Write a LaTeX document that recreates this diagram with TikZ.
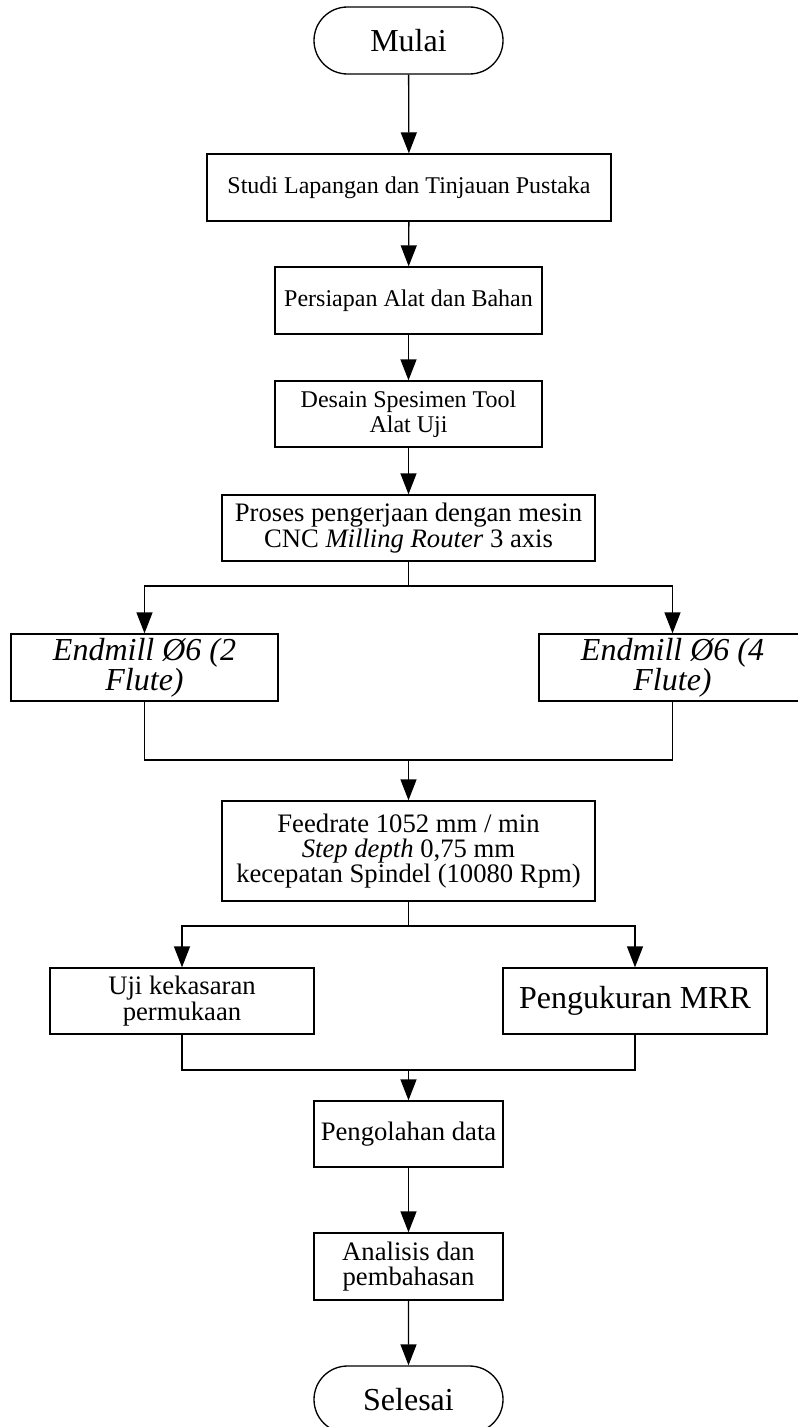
\documentclass[tikz,border=0pt]{standalone}
\usepackage{fontspec}
\setmainfont{Liberation Serif}
\usepackage{tikz}
\usetikzlibrary{arrows.meta,shapes.misc}

\tikzset{
  kotak/.style={draw, line width=1pt, rectangle, align=center, inner sep=0pt},
  terminal/.style={draw, line width=1pt, rounded rectangle, align=center, inner sep=0pt,
    minimum width=141.75pt, minimum height=50.25pt, font=\teksC},
  panah/.style={line width=1pt, -{Triangle[length=15.75pt,width=12pt]}},
  garis/.style={line width=1pt}
}
\newcommand{\teksA}{\fontsize{18pt}{19pt}\selectfont}
\newcommand{\teksB}{\fontsize{20pt}{19pt}\selectfont}
\newcommand{\teksC}{\fontsize{24pt}{21.5pt}\selectfont}

\begin{document}
\begin{tikzpicture}[x=0.75pt,y=-0.75pt]
\useasboundingbox (0,0) rectangle (798,1427);

% Langkah-langkah utama
\node[terminal] (mulai) at (408.5,40.5) {Mulai};
\node[kotak, font=\teksA, minimum width=303pt, minimum height=50.25pt] (studi) at (409,187.5) {Studi Lapangan dan Tinjauan Pustaka};
\node[kotak, font=\teksA, minimum width=200.25pt, minimum height=50.25pt] (persiapan) at (408.5,300.5) {Persiapan Alat dan Bahan};
\node[kotak, font=\teksA, minimum width=200.25pt, minimum height=49.5pt] (desain) at (408.5,414) {Desain Spesimen Tool\\ Alat Uji};
\node[kotak, font=\teksB, minimum width=279.75pt, minimum height=49.5pt] (proses) at (408.5,528) {Proses pengerjaan dengan mesin\\ CNC \textit{Milling Router} 3 axis};

% Dua jenis endmill
\node[kotak, font=\teksC\itshape, minimum width=200.25pt, minimum height=50.25pt] (endkiri) at (144.5,667.5) {Endmill Ø6 (2\\ Flute)};
\node[kotak, font=\teksC\itshape, minimum width=200.25pt, minimum height=50.25pt] (endkanan) at (672.5,667.5) {Endmill Ø6 (4\\ Flute)};

\node[kotak, font=\teksB, minimum width=279.75pt, minimum height=75pt] (feed) at (408.5,851) {Feedrate 1052 mm / min\\ \textit{Step depth} 0,75 mm\\ kecepatan Spindel (10080 Rpm)};

% Dua pengujian
\node[kotak, font=\teksB, minimum width=198pt, minimum height=49.5pt] (uji) at (182,1001) {Uji kekasaran\\ permukaan};
\node[kotak, font=\teksC, minimum width=198pt, minimum height=49.5pt] (mrr) at (635,1001) {Pengukuran MRR};

\node[kotak, font=\teksB, minimum width=141.75pt, minimum height=49.5pt] (olah) at (408.5,1134) {Pengolahan data};
\node[kotak, font=\teksB, minimum width=141.75pt, minimum height=50.25pt] (analisis) at (408.5,1266.5) {Analisis dan\\ pembahasan};
\node[terminal] (selesai) at (408.5,1399.5) {Selesai};

% titik cabang dan gabung
\coordinate (cabang1) at (408.5,586);
\coordinate (gabung1) at (408.5,760);
\coordinate (cabang2) at (408.5,926);
\coordinate (gabung2) at (408.5,1070);

\draw[panah] (mulai) -- (studi);
\draw[panah] (studi) -- (persiapan);
\draw[panah] (persiapan) -- (desain);
\draw[panah] (desain) -- (proses);

\draw[garis] (proses) -- (cabang1);
\draw[panah] (cabang1) -| (endkiri);
\draw[panah] (cabang1) -| (endkanan);
\draw[garis] (endkiri) |- (gabung1);
\draw[garis] (endkanan) |- (gabung1);
\draw[panah] (gabung1) -- (feed);

\draw[garis] (feed) -- (cabang2);
\draw[panah] (cabang2) -| (uji);
\draw[panah] (cabang2) -| (mrr);
\draw[garis] (uji) |- (gabung2);
\draw[garis] (mrr) |- (gabung2);
\draw[panah] (gabung2) -- (olah);

\draw[panah] (olah) -- (analisis);
\draw[panah] (analisis) -- (selesai);

\end{tikzpicture}
\end{document}
